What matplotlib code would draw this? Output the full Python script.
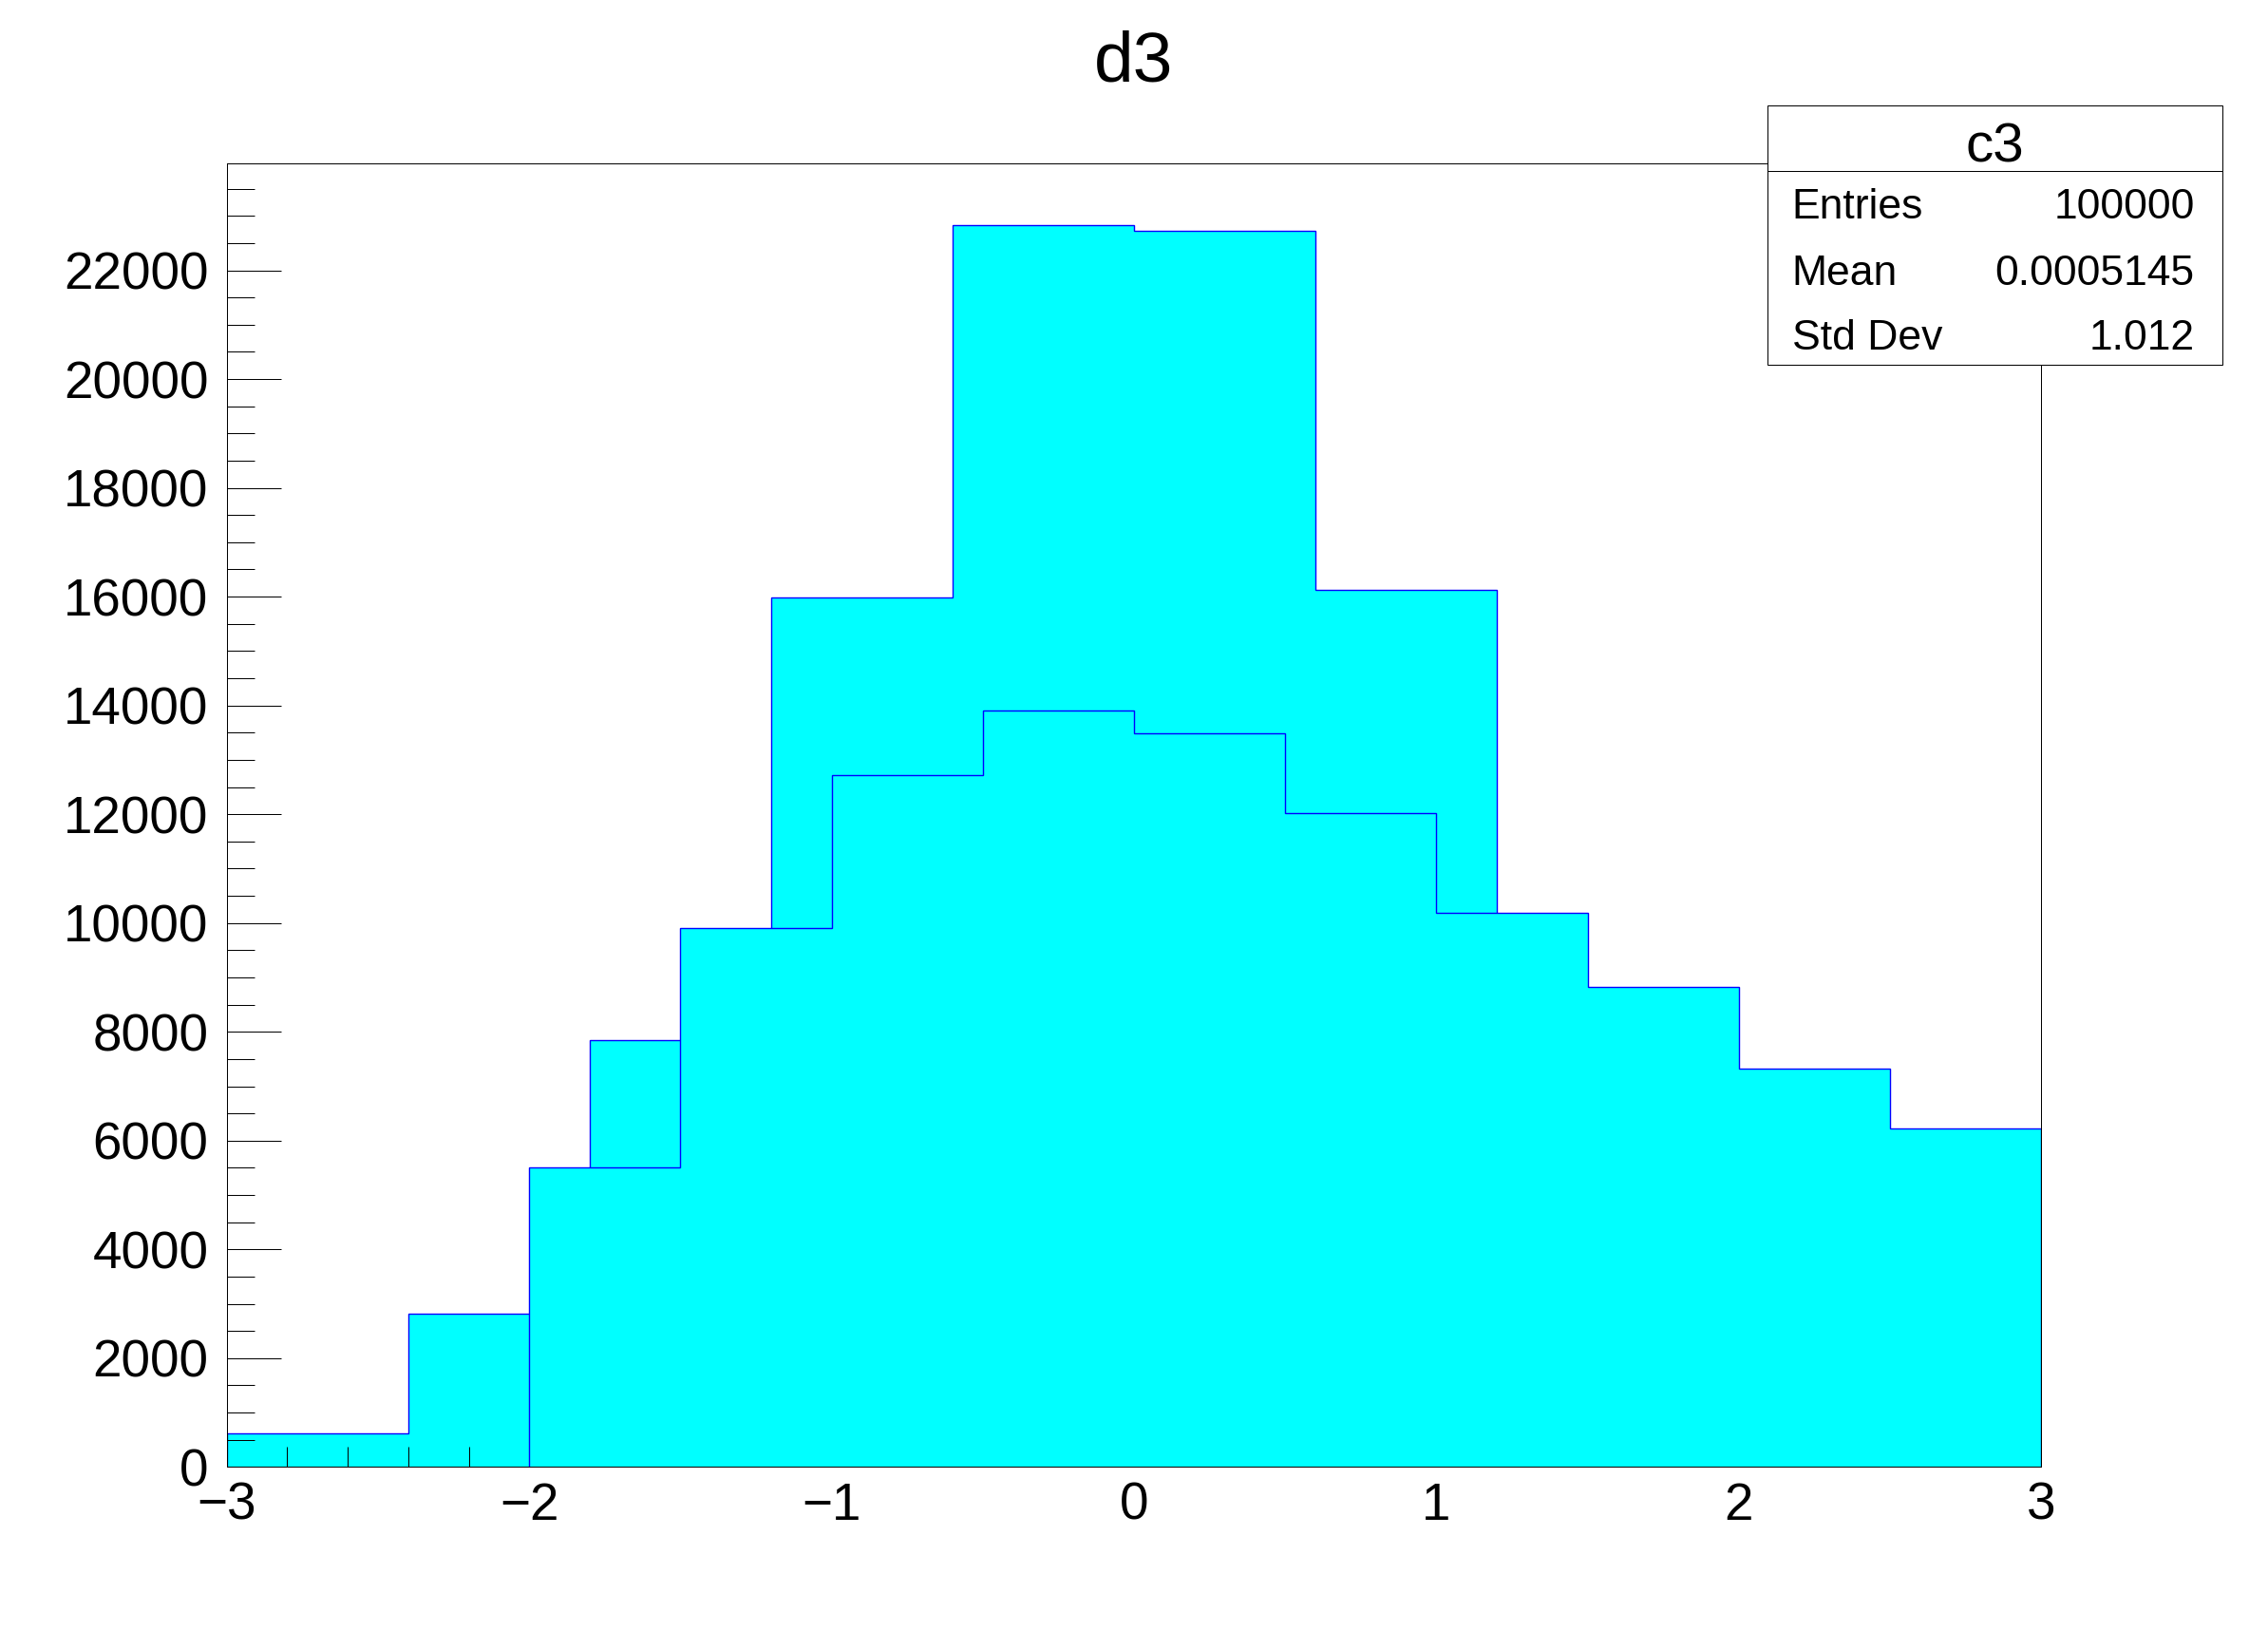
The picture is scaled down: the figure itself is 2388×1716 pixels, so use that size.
import matplotlib
matplotlib.use("Agg")
import matplotlib.pyplot as plt
from matplotlib.patches import Rectangle
from matplotlib.lines import Line2D
from matplotlib.ticker import MultipleLocator, FuncFormatter

plt.rcParams['font.family'] = ['Liberation Sans', 'DejaVu Sans']

# ---- data ----
edges1 = [-3.0, -2.4, -1.8, -1.2, -0.6, 0.0, 0.6, 1.2, 1.8, 2.4, 3.0]
counts1 = [620, 2820, 7850, 15990, 22830, 22720, 16120, 7850, 2800, 620]
edges2 = [-2.0, -1.5, -1.0, -0.5, 0.0, 0.5, 1.0, 1.5, 2.0, 2.5, 3.0]
counts2 = [5510, 9900, 12720, 13910, 13490, 12020, 10190, 8830, 7320, 6230]
title = "d3"
stats_title = "c3"
stats_labels = ["Entries", "Mean", "Std Dev"]
stats_values = ["100000", "0.0005145", "1.012"]

W, H = 2388, 1716
fig = plt.figure(figsize=(W / 100, H / 100), dpi=100)
ax = fig.add_axes([0.1, 0.1, 0.8, 0.8])

fill_c = "#00ffff"
line_c = "#0000ff"
lw = 1.0

ax.stairs(counts1, edges1, fill=True, color=fill_c, zorder=1)
ax.stairs(counts1, edges1, fill=False, color=line_c, lw=lw, zorder=1.2)
ax.stairs(counts2, edges2, fill=True, color=fill_c, zorder=3)
ax.stairs(counts2, edges2, fill=False, color=line_c, lw=lw, zorder=3.2)

ax.set_xlim(-3, 3)
ax.set_ylim(0, 1.05 * max(counts1))

ax.xaxis.set_major_locator(MultipleLocator(1))
ax.xaxis.set_minor_locator(MultipleLocator(0.2))
ax.yaxis.set_major_locator(MultipleLocator(2000))
ax.yaxis.set_minor_locator(MultipleLocator(500))

px = 72 / 100.0
ax.tick_params(axis='x', which='major', direction='in', length=41 * px, width=1 * px,
               labelsize=39.5, pad=11, top=False)
ax.tick_params(axis='x', which='minor', direction='in', length=21 * px, width=1 * px, top=False)
ax.tick_params(axis='y', which='major', direction='in', length=57 * px, width=1 * px,
               labelsize=39.5, pad=14, right=False)
ax.tick_params(axis='y', which='minor', direction='in', length=29 * px, width=1 * px, right=False)
ax.xaxis.set_zorder(2.5)
ax.yaxis.set_zorder(2.5)
for s in ax.spines.values():
    s.set_linewidth(1 * px)
    s.set_zorder(4)

ax.yaxis.set_major_formatter(FuncFormatter(lambda v, p: f"{int(round(v))}"))

# title
fig.text(0.5, 1 - 85 / H, title, ha='center', va='baseline', fontsize=54)

# stats box
bx0, bx1 = 1860.7 / W, 2340 / W
by_top, by_bot = 1 - 111.5 / H, 1 - 384 / H
fig.patches.append(Rectangle((bx0, by_bot), bx1 - bx0, by_top - by_bot,
                             transform=fig.transFigure, facecolor='white',
                             edgecolor='black', lw=1 * px, zorder=5))
sep_y = 1 - 179.5 / H
fig.lines.append(Line2D([bx0, bx1], [sep_y, sep_y], transform=fig.transFigure,
                        color='black', lw=1 * px, zorder=6))
fig.text((bx0 + bx1) / 2, 1 - 170.5 / H, stats_title, ha='center', va='baseline',
         fontsize=42, zorder=7)
base_ys = [230, 300, 368]
for lab, val, by in zip(stats_labels, stats_values, base_ys):
    fig.text(1886.7 / W, 1 - by / H, lab, ha='left', va='baseline', fontsize=32, zorder=7)
    fig.text(2310.7 / W, 1 - by / H, val, ha='right', va='baseline', fontsize=32, zorder=7)

fig.savefig("out.png", dpi=100, facecolor='white')
